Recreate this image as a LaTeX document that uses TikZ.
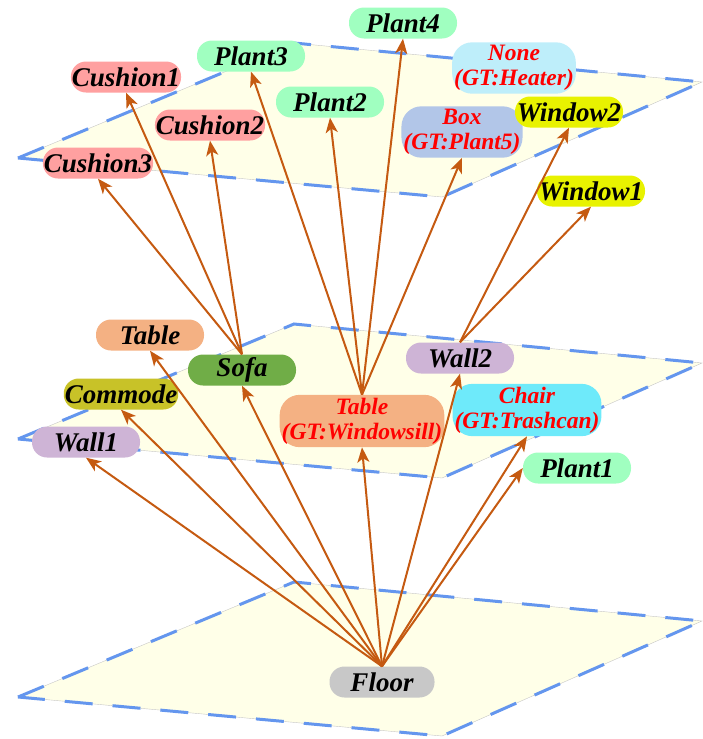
\documentclass[tikz,border=0pt]{standalone}
\usepackage{fontspec}
\setmainfont{Liberation Serif}
\usetikzlibrary{arrows.meta}

\definecolor{relcol}{RGB}{197,90,17}
\definecolor{planefill}{RGB}{255,255,232}
\definecolor{planeline}{RGB}{100,150,238}
\definecolor{cushioncol}{RGB}{255,160,160}
\definecolor{plantcol}{RGB}{160,255,192}
\definecolor{heatercol}{RGB}{190,238,250}
\definecolor{boxcol}{RGB}{178,198,232}
\definecolor{windowcol}{RGB}{232,242,0}
\definecolor{tablecol}{RGB}{244,177,131}
\definecolor{sofacol}{RGB}{112,173,71}
\definecolor{commodecol}{RGB}{200,194,40}
\definecolor{wallcol}{RGB}{206,180,214}
\definecolor{chaircol}{RGB}{110,234,250}
\definecolor{floorcol}{RGB}{200,200,200}

\begin{document}
\begin{tikzpicture}[x=1pt,y=-1pt,
  obj/.style={rounded corners=15pt, minimum width=108pt, minimum height=31pt, inner sep=1pt,
    font=\bfseries\itshape\fontsize{27}{29}\selectfont},
  gt/.style={rounded corners=20pt, inner xsep=2pt, inner ysep=3pt, align=center, text=red,
    font=\bfseries\itshape\fontsize{23.5}{25}\selectfont},
  plane/.style={fill=planefill, draw=gray!45, thin},
  planeedge/.style={draw=planeline, line width=3pt, dash pattern=on 28pt off 20pt},
  rel/.style={draw=relcol, line width=2pt, -{Stealth[length=15pt, width=12pt, inset=4pt]}}]
\useasboundingbox (0,0) rectangle (703,739);

% three levels
\foreach \y in {0, 281, 539} {
  \filldraw[plane] (18,158+\y) -- (294,43+\y) -- (702,82+\y) -- (442,197+\y) -- cycle;
  \draw[planeedge] (18,158+\y) -- (294,43+\y) -- (702,82+\y) -- (442,197+\y) -- cycle;
}

% top level
\node[obj, fill=plantcol] (plant4) at (403,23) {Plant4};
\node[obj, fill=plantcol] (plant3) at (251,56) {Plant3};
\node[obj, fill=plantcol] (plant2) at (330,102) {Plant2};
\node[obj, fill=cushioncol] (cushion1) at (126,77) {Cushion1};
\node[obj, fill=cushioncol] (cushion2) at (210,125) {Cushion2};
\node[obj, fill=cushioncol] (cushion3) at (98,163) {Cushion3};
\node[gt, fill=heatercol] (heater) at (514,68) {None\\(GT:Heater)};
\node[gt, fill=boxcol] (box) at (462,132) {Box\\(GT:Plant5)};
\node[obj, fill=windowcol] (window2) at (569,112) {Window2};
\node[obj, fill=windowcol] (window1) at (591,191) {Window1};

% middle level
\node[obj, fill=tablecol] (table) at (150,335) {Table};
\node[obj, fill=sofacol] (sofa) at (242,370) {Sofa};
\node[obj, fill=commodecol] (commode) at (121,394) {Commode};
\node[obj, fill=wallcol] (wall1) at (86,442) {Wall1};
\node[gt, fill=tablecol] (windowsill) at (362,421) {Table\\(GT:Windowsill)};
\node[obj, fill=wallcol] (wall2) at (460,358) {Wall2};
\node[gt, fill=chaircol] (chair) at (527,410) {Chair\\(GT:Trashcan)};
\node[obj, fill=plantcol] (plant1) at (577,468) {Plant1};

% bottom level
\node[obj, fill=floorcol, minimum width=105pt] (floor) at (382,682) {Floor};

\foreach \to in {wall1,commode,table,sofa,windowsill,wall2,chair}
  \draw[rel] (floor.north) -- (\to.south);
\draw[rel] (floor.north) -- (plant1.west);
\foreach \from/\to in {sofa/cushion1,sofa/cushion2,sofa/cushion3,
    windowsill/plant3,windowsill/plant2,windowsill/plant4,windowsill/box,
    wall2/window2,wall2/window1}
  \draw[rel] (\from.north) -- (\to.south);
\end{tikzpicture}
\end{document}
